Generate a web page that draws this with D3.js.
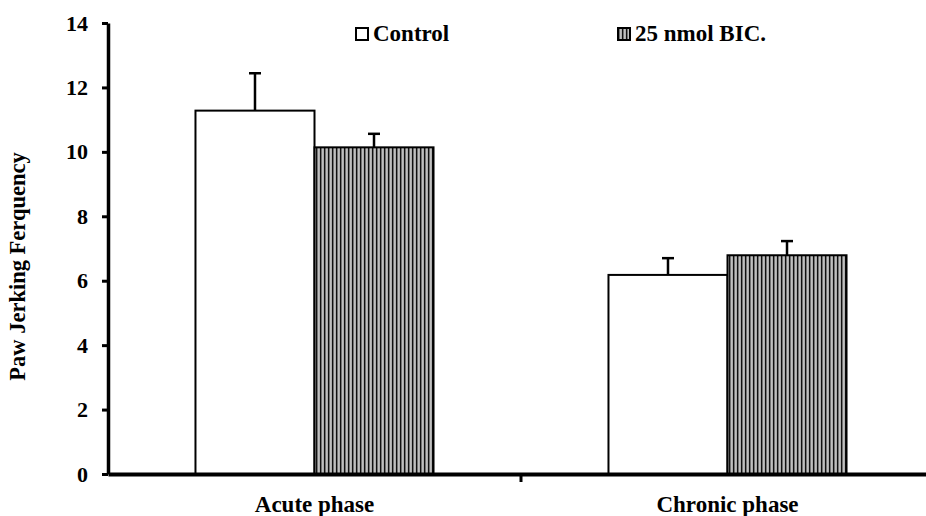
<!DOCTYPE html>
<html lang="en">
<head>
<meta charset="UTF-8">
<title>Paw Jerking Frequency</title>
<script src="https://cdn.jsdelivr.net/npm/d3@7.8.5/dist/d3.min.js"></script>
<style>
    body { margin: 0; background: #fff; }
    svg { display: block; font-family: "Liberation Serif", "Times New Roman", serif; font-weight: bold; }
</style>
</head>
<body>
<div id="chart"></div>
<script>
    // data
    const phases = ["Acute phase", "Chronic phase"];
    const groups = ["Control", "25 nmol BIC."];
    const controlMean = [11.28, 6.18];
    const controlErr = [1.16, 0.52];
    const bicMean = [10.14, 6.79];
    const bicErr = [0.42, 0.44];
    const yTicks = [0, 2, 4, 6, 8, 10, 12, 14];

    const W = 926, H = 516;
    const plotLeft = 108, plotRight = 934, plotTop = 23, plotBottom = 474;

    const rows = phases.map((p, i) => ({
        phase: p,
        values: [
            {group: groups[0], mean: controlMean[i], err: controlErr[i]},
            {group: groups[1], mean: bicMean[i], err: bicErr[i]}
        ]
    }));

    const svg = d3.select("#chart").append("svg")
        .attr("width", W)
        .attr("height", H);

    // vertical stripe fill for the BIC bars
    const pat = svg.append("defs").append("pattern")
        .attr("id", "stripes")
        .attr("patternUnits", "userSpaceOnUse")
        .attr("width", 4)
        .attr("height", 4);
    pat.append("rect").attr("width", 4).attr("height", 4).attr("fill", "#e6e6e6");
    pat.append("rect").attr("x", 0).attr("width", 1.6).attr("height", 4).attr("fill", "#111");
    pat.append("rect").attr("x", 1.6).attr("width", 0.8).attr("height", 4).attr("fill", "#888");
    pat.append("rect").attr("x", 3.4).attr("width", 0.6).attr("height", 4).attr("fill", "#888");

    const y = d3.scaleLinear().domain([0, 14]).range([plotBottom, plotTop]);
    const x0 = d3.scaleBand().domain(phases).range([plotLeft, plotRight]);
    const x1 = d3.scaleBand().domain(groups).range([0, x0.bandwidth()]).paddingOuter(0.735);
    const fills = d3.scaleOrdinal().domain(groups).range(["#fff", "url(#stripes)"]);

    // bars
    const grp = svg.selectAll(".phase")
        .data(rows)
        .enter().append("g")
        .attr("transform", d => `translate(${x0(d.phase)},0)`);

    grp.selectAll("rect")
        .data(d => d.values)
        .enter().append("rect")
        .attr("x", d => x1(d.group))
        .attr("y", d => y(d.mean))
        .attr("width", x1.bandwidth())
        .attr("height", d => y(0) - y(d.mean))
        .attr("fill", d => fills(d.group))
        .attr("stroke", "#000")
        .attr("stroke-width", 2);

    // error bars (upper only)
    const eb = grp.selectAll(".err")
        .data(d => d.values)
        .enter().append("g")
        .attr("stroke", "#000")
        .attr("stroke-width", 2.5);
    eb.append("line")
        .attr("x1", d => x1(d.group) + x1.bandwidth() / 2)
        .attr("x2", d => x1(d.group) + x1.bandwidth() / 2)
        .attr("y1", d => y(d.mean))
        .attr("y2", d => y(d.mean + d.err));
    eb.append("line")
        .attr("x1", d => x1(d.group) + x1.bandwidth() / 2 - 6)
        .attr("x2", d => x1(d.group) + x1.bandwidth() / 2 + 6)
        .attr("y1", d => y(d.mean + d.err))
        .attr("y2", d => y(d.mean + d.err));

    // y axis
    const yAxis = svg.append("g")
        .attr("transform", `translate(${plotLeft},0)`)
        .call(d3.axisLeft(y).tickValues(yTicks).tickSize(6).tickSizeOuter(0).tickPadding(14));
    yAxis.select(".domain").attr("stroke-width", 3.5);
    yAxis.selectAll(".tick line").attr("stroke-width", 3);
    yAxis.selectAll("text")
        .style("font-size", "22px")
        .style("font-family", "'Liberation Serif', serif")
        .style("font-weight", "bold")
        .attr("fill", "#000");

    // x axis
    const xAxis = svg.append("g")
        .attr("transform", `translate(0,${plotBottom})`)
        .call(d3.axisBottom(x0).tickSize(0).tickPadding(22));
    xAxis.select(".domain").attr("stroke-width", 4);
    xAxis.selectAll("text")
        .style("font-size", "23px")
        .style("font-family", "'Liberation Serif', serif")
        .style("font-weight", "bold")
        .attr("fill", "#000");
    // tick between the two categories
    xAxis.append("line")
        .attr("x1", x0(phases[1]))
        .attr("x2", x0(phases[1]))
        .attr("y1", 0)
        .attr("y2", 8)
        .attr("stroke", "#000")
        .attr("stroke-width", 3);

    // y title
    svg.append("text")
        .attr("transform", `translate(25,${(plotTop + plotBottom) / 2 + 18}) rotate(-90)`)
        .attr("text-anchor", "middle")
        .attr("font-size", 22.5)
        .text("Paw Jerking Ferquency");

    // legend
    const legendX = [356, 618];
    const legend = svg.selectAll(".legend")
        .data(groups)
        .enter().append("g")
        .attr("transform", (d, i) => `translate(${legendX[i]},28)`);
    legend.append("rect")
        .attr("width", 12)
        .attr("height", 12)
        .attr("fill", d => fills(d))
        .attr("stroke", "#000")
        .attr("stroke-width", 2);
    legend.append("text")
        .attr("x", 17)
        .attr("y", 13)
        .attr("font-size", 23)
        .text(d => d);
</script>
</body>
</html>
